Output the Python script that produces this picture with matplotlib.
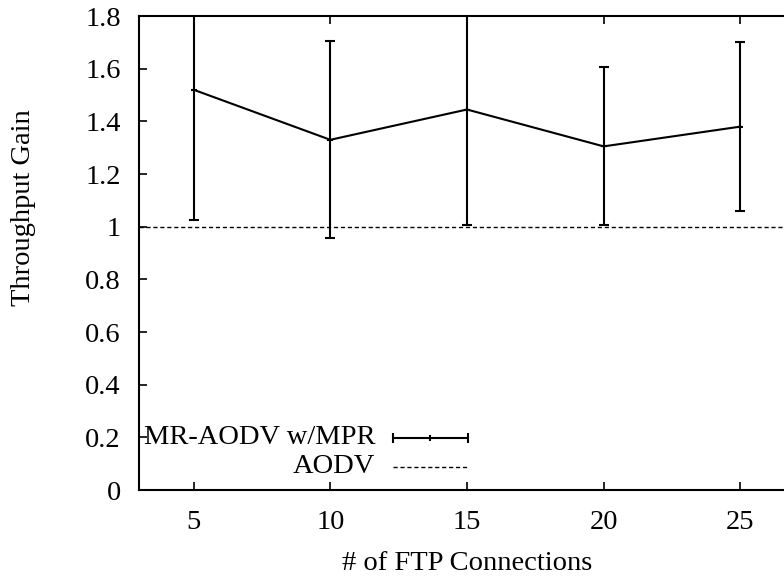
import numpy as np
import matplotlib
matplotlib.use("Agg")
import matplotlib.pyplot as plt

plt.rcParams['font.family'] = ['Liberation Serif', 'DejaVu Serif']
plt.rcParams['font.size'] = 20.5

connections = [5, 10, 15, 20, 25]
gain = [1.52, 1.33, 1.445, 1.305, 1.38]
gain_err = [0.495, 0.374, 0.44, 0.30, 0.32]
baseline = 1.0
series_names = ["MR-AODV w/MPR", "AODV"]

fig = plt.figure(figsize=(7.84, 5.8), dpi=100)
ax = fig.add_axes([0.1773, 0.155, 1.014 - 0.1773, 0.9724 - 0.155])

lw = 1.5
ax.errorbar(connections, gain, yerr=gain_err, color='black', lw=lw,
            elinewidth=lw, capsize=3.5, capthick=lw,
            marker='_', markersize=5, markeredgewidth=lw)
ax.axhline(baseline, color='black', lw=1.0, ls=(0, (3, 2)))

ax.set_xlim(3, 27)
ax.set_ylim(0, 1.8)
ax.set_xticks(connections)
ax.set_yticks(np.arange(0, 1.81, 0.2))
ax.set_yticklabels(['0', '0.2', '0.4', '0.6', '0.8', '1', '1.2', '1.4', '1.6', '1.8'])
ax.tick_params(axis='x', direction='in', top=True, length=6, width=1.2, pad=14)
ax.tick_params(axis='y', direction='in', right=True, length=6, width=1.2, pad=13)
for s in ax.spines.values():
    s.set_linewidth(1.5)

ax.set_xlabel('# of FTP Connections', labelpad=12)
ax.set_ylabel('Throughput Gain')
ax.yaxis.set_label_coords(-0.157, 0.595)

# gnuplot-style key: right aligned labels, sample to the right
key_y = [0.11, 0.049]
ax.text(0.36, key_y[0], series_names[0], transform=ax.transAxes,
        ha='right', va='center')
ax.text(0.36, key_y[1], series_names[1], transform=ax.transAxes,
        ha='right', va='center')
ax.errorbar([0.4443], [key_y[0]], xerr=[0.0572], transform=ax.transAxes,
            color='black', lw=lw, elinewidth=lw, capsize=3.5, capthick=lw,
            marker='|', markersize=5, markeredgewidth=lw, clip_on=False)
ax.plot([0.387, 0.5015], [key_y[1], key_y[1]], transform=ax.transAxes,
        color='black', lw=1.0, ls=(0, (3, 2)))

fig.savefig('out.png', dpi=100)
